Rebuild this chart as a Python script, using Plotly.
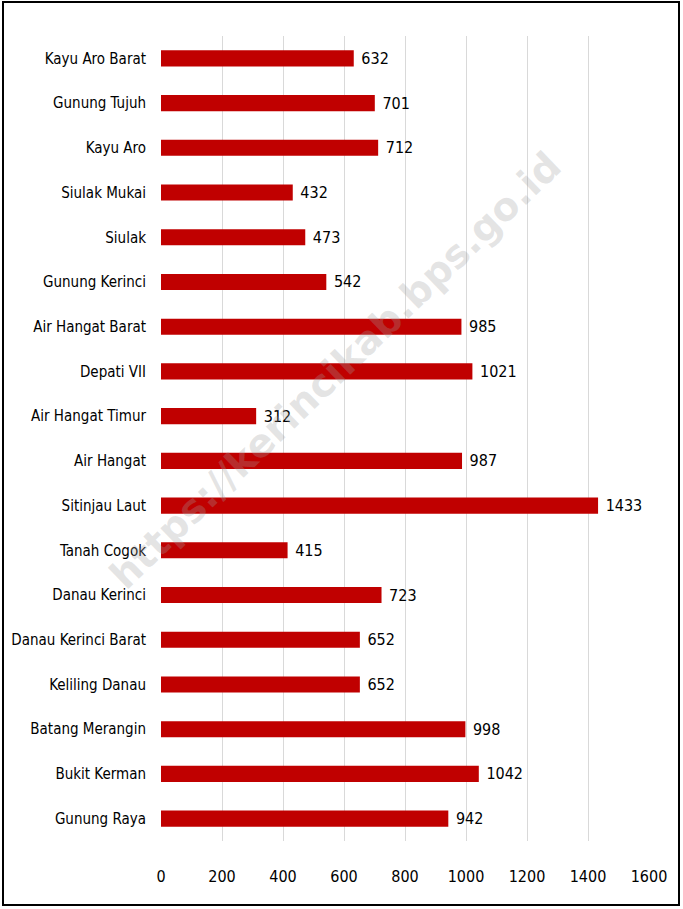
import plotly.graph_objects as go

# kecamatan, urut dari atas ke bawah seperti di gambar
kecamatan = ["Kayu Aro Barat", "Gunung Tujuh", "Kayu Aro", "Siulak Mukai", "Siulak",
             "Gunung Kerinci", "Air Hangat Barat", "Depati VII", "Air Hangat Timur",
             "Air Hangat", "Sitinjau Laut", "Tanah Cogok", "Danau Kerinci",
             "Danau Kerinci Barat", "Keliling Danau", "Batang Merangin",
             "Bukit Kerman", "Gunung Raya"]
nilai = [632, 701, 712, 432, 473, 542, 985, 1021, 312, 987, 1433, 415, 723,
         652, 652, 998, 1042, 942]
x_ticks = [0, 200, 400, 600, 800, 1000, 1200, 1400, 1600]

W, H = 683, 909
ML, MR, MT, MB = 161, 34, 36, 68
font = "DejaVu Sans Condensed, Liberation Sans Narrow, sans-serif"

fig = go.Figure(go.Bar(
    x=nilai,
    y=kecamatan,
    orientation="h",
    width=0.36,
    marker=dict(color="#C00000", line=dict(width=0)),
    text=nilai,
    texttemplate="\u00a0%{x}",
    textposition="outside",
    constraintext="none",
    textfont=dict(family=font, size=16, color="#000000"),
    cliponaxis=False,
    hoverinfo="skip",
))

fig.update_layout(
    width=W, height=H,
    margin=dict(l=ML, r=MR, t=MT, b=MB),
    paper_bgcolor="white",
    plot_bgcolor="white",
    showlegend=False,
    font=dict(family=font, size=16, color="#000000"),
    xaxis=dict(range=[0, 1600], tickvals=x_ticks, showgrid=True,
               gridcolor="#d9d9d9", gridwidth=1, zeroline=False,
               showline=False, ticks="", ticklabelstandoff=24,
               automargin=False, tickfont=dict(family=font, size=16)),
    yaxis=dict(categoryorder="array", categoryarray=kecamatan[::-1],
               showgrid=False, zeroline=False, showline=False, ticks="",
               ticklabelstandoff=14, automargin=False,
               tickfont=dict(family=font, size=15)),
)

# watermark
fig.add_annotation(
    text="<b>https://kerincikab.bps.go.id</b>",
    xref="paper", yref="paper",
    x=(335 - ML) / (W - ML - MR), y=1 - (370 - MT) / (H - MT - MB),
    showarrow=False, textangle=-44,
    font=dict(family="DejaVu Sans, sans-serif", size=39,
              color="rgba(160,160,160,0.28)"),
)

# bingkai luar
pw, ph = W - ML - MR, H - MT - MB
fig.add_shape(type="rect", xref="paper", yref="paper",
              x0=(3 - ML) / pw, x1=(679 - ML) / pw,
              y0=1 - (905 - MT) / ph, y1=1 - (2 - MT) / ph,
              line=dict(color="#000000", width=2), layer="above")

fig.write_html("out.html", config={"displayModeBar": False},
               post_script="document.body.style.margin='0';")
